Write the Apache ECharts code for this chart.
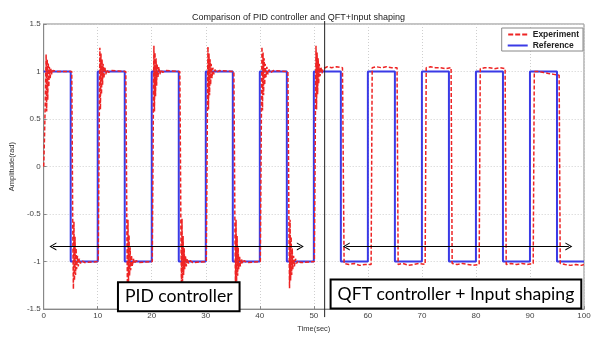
<!DOCTYPE html>
<html>
<head>
<meta charset="utf-8">
<script src="https://cdn.jsdelivr.net/npm/echarts@6/dist/echarts.min.js"></script>
<style>
html,body{margin:0;padding:0;background:#fff}
#chart{width:597px;height:338px}
</style>
</head>
<body>
<div id="chart"></div>
<script>
// reference square wave: [time, level], drawn as steps
var referenceSteps = [
  [0,1],[5,-1],[10,1],[15,-1],[20,1],[25,-1],[30,1],[35,-1],[40,1],[45,-1],
  [50,1],[55,-1],[60,1],[65,-1],[70,1],[75,-1],[80,1],[85,-1],[90,1],[95,-1],[100,-1]
];

// measured response, PID part (0 - 52 s)
var pidExperiment = [
  [0,0],[0.15,0.3],[0.3,0.7],[0.45,1.18],[0.55,0.58],[0.65,1.13],[0.75,0.7],[0.85,1.09],[0.95,0.84],[1.05,1.05],[1.2,0.93],[1.35,1.03],[1.5,0.97],[1.7,1.01],[2.0,0.99],[2.5,1.0],[5.2,1.0],
  [5.3,0.1],[5.4,-0.8],[5.5,-1.29],[5.6,-0.58],[5.7,-1.2],[5.8,-0.74],[5.9,-1.14],[6.0,-0.86],[6.1,-1.08],[6.25,-0.94],[6.4,-1.05],[6.6,-0.97],[6.8,-1.02],[7.1,-0.99],[7.6,-1.01],[10.1,-1.0],
  [10.2,-0.2],[10.3,0.6],[10.4,1.25],[10.5,0.6],[10.6,1.19],[10.7,0.76],[10.8,1.13],[10.9,0.86],[11.0,1.08],[11.15,0.93],[11.3,1.05],[11.5,0.97],[11.7,1.02],[12.0,0.99],[12.5,1.01],[15.2,1.0],
  [15.3,0.2],[15.4,-0.7],[15.5,-1.3],[15.6,-0.56],[15.7,-1.22],[15.8,-0.72],[15.9,-1.15],[16.0,-0.85],[16.1,-1.09],[16.25,-0.93],[16.4,-1.05],[16.6,-0.97],[16.8,-1.02],[17.1,-0.99],[17.6,-1.01],[20.1,-1.0],
  [20.2,-0.2],[20.3,0.6],[20.4,1.27],[20.5,0.58],[20.6,1.2],[20.7,0.74],[20.8,1.14],[20.9,0.85],[21.0,1.08],[21.15,0.94],[21.3,1.05],[21.5,0.97],[21.7,1.02],[22.0,0.99],[22.5,1.01],[25.2,1.0],
  [25.3,0.2],[25.4,-0.7],[25.5,-1.28],[25.6,-0.55],[25.7,-1.21],[25.8,-0.73],[25.9,-1.14],[26.0,-0.86],[26.1,-1.08],[26.25,-0.94],[26.4,-1.05],[26.6,-0.97],[26.8,-1.02],[27.1,-0.99],[27.6,-1.01],[30.1,-1.0],
  [30.2,-0.2],[30.3,0.6],[30.4,1.26],[30.5,0.6],[30.6,1.19],[30.7,0.75],[30.8,1.13],[30.9,0.86],[31.0,1.08],[31.15,0.93],[31.3,1.04],[31.5,0.97],[31.7,1.02],[32.0,0.99],[32.5,1.01],[35.2,1.0],
  [35.3,0.2],[35.4,-0.7],[35.5,-1.29],[35.6,-0.56],[35.7,-1.21],[35.8,-0.73],[35.9,-1.15],[36.0,-0.85],[36.1,-1.08],[36.25,-0.94],[36.4,-1.05],[36.6,-0.97],[36.8,-1.02],[37.1,-0.99],[37.6,-1.01],[40.1,-1.0],
  [40.2,-0.2],[40.3,0.6],[40.4,1.26],[40.5,0.59],[40.6,1.2],[40.7,0.75],[40.8,1.14],[40.9,0.86],[41.0,1.08],[41.15,0.94],[41.3,1.05],[41.5,0.97],[41.7,1.02],[42.0,0.99],[42.5,1.01],[45.2,1.0],
  [45.3,0.2],[45.4,-0.7],[45.5,-1.28],[45.6,-0.56],[45.7,-1.2],[45.8,-0.74],[45.9,-1.14],[46.0,-0.86],[46.1,-1.08],[46.25,-0.94],[46.4,-1.05],[46.6,-0.97],[46.8,-1.02],[47.1,-0.99],[47.6,-1.01],[50.1,-1.0],
  [50.2,-0.2],[50.3,0.6],[50.4,1.27],[50.5,0.6],[50.6,1.2],[50.7,0.76],[50.8,1.14],[50.9,0.87],[51.0,1.08],[51.15,0.95],[51.3,1.05],[51.5,0.98],[51.7,1.03],[52.0,1.04]
];

// measured response, QFT + input shaping part (52 - 100 s)
var qftExperiment = [
  [52.5,1.05],[53.3,1.04],[54.2,1.05],[55.3,1.04],
  [55.6,-1.02],[56.5,-1.03],[57.5,-1.02],[58.5,-1.04],[59.5,-1.03],[60.6,-1.03],
  [60.8,1.04],[61.6,1.05],[62.5,1.04],[63.4,1.05],[64.4,1.04],[65.4,1.04],
  [65.6,-1.03],[66.5,-1.02],[67.5,-1.04],[68.5,-1.03],[69.5,-1.02],[70.6,-1.03],
  [70.8,1.04],[71.6,1.05],[72.5,1.04],[73.4,1.04],[74.4,1.03],[75.4,1.04],
  [75.6,-1.02],[76.5,-1.03],[77.5,-1.02],[78.5,-1.03],[79.5,-1.04],[80.6,-1.03],
  [80.8,1.03],[81.6,1.04],[82.5,1.04],[83.4,1.03],[84.4,1.04],[85.4,1.03],
  [85.6,-1.03],[86.5,-1.02],[87.5,-1.03],[88.5,-1.02],[89.5,-1.03],[90.6,-1.02],
  [90.8,1.0],[91.6,1.0],[92.5,0.99],[93.4,0.98],[94.4,0.97],[95.4,0.96],
  [95.6,-1.02],[96.5,-1.03],[97.5,-1.04],[98.5,-1.03],[99.5,-1.04],[100,-1.03]
];

var splitTime = 52;
var pidArrow = [[1.7,-0.84],[47.5,-0.84]];
var qftArrow = [[56,-0.84],[97.2,-0.84]];
var pidLabelAt = [25,-1.37];
var qftLabelAt = [76.3,-1.34];

var chevron = 'path://M0,10 L5,0 L10,10 L8.6,10 L5,2.8 L1.4,10 Z';
var dashedIcon = 'path://M0,0 L5,0 L5,2 L0,2 Z M7,0 L12,0 L12,2 L7,2 Z M14,0 L19,0 L19,2 L14,2 Z';
var solidIcon = 'path://M0,0 L20,0 L20,2 L0,2 Z';

var chart = echarts.init(document.getElementById('chart'));
var labelFont = 'Liberation Sans, Arial, sans-serif';

var boxLabel = function (text) {
  return {
    show: true,
    position: 'inside',
    formatter: text,
    fontFamily: 'Lato, sans-serif',
    fontSize: 17.6,
    color: '#000',
    backgroundColor: '#fff',
    borderColor: '#000',
    borderWidth: 2,
    padding: [5, 6, 4, 6]
  };
};

chart.setOption({
  animation: false,
  title: {
    text: 'Comparison of PID controller and QFT+Input shaping',
    left: 'center',
    top: 8,
    textStyle: {fontSize: 9, fontWeight: 'normal', color: '#222', fontFamily: labelFont}
  },
  legend: {
    right: 14,
    top: 28,
    orient: 'vertical',
    backgroundColor: '#fff',
    borderColor: '#888',
    borderWidth: 1,
    padding: [2, 4, 1, 6],
    itemGap: 2,
    itemWidth: 20,
    itemHeight: 2,
    textStyle: {fontSize: 8.5, color: '#222', fontFamily: labelFont, fontWeight: 'bold'},
    data: [
      {name: 'Experiment', icon: dashedIcon, itemStyle: {color: '#ee2424'}},
      {name: 'Reference', icon: solidIcon, itemStyle: {color: '#3a3ae6'}}
    ]
  },
  grid: {left: 43, right: 13, top: 24, bottom: 19, show: true, borderColor: '#888', borderWidth: 1},
  xAxis: {
    type: 'value', min: 0, max: 100, interval: 10,
    name: 'Time(sec)', nameLocation: 'middle', nameGap: 15,
    nameTextStyle: {fontSize: 7.5, color: '#333', fontFamily: labelFont},
    axisLine: {onZero: false, lineStyle: {color: '#888'}},
    axisTick: {inside: true, length: 3, lineStyle: {color: '#888'}},
    axisLabel: {fontSize: 8, color: '#444', margin: 3, fontFamily: labelFont},
    splitLine: {show: true, lineStyle: {color: '#cfcfcf', type: [1, 2]}}
  },
  yAxis: {
    type: 'value', min: -1.5, max: 1.5, interval: 0.5,
    name: 'Amplitude(rad)', nameLocation: 'middle', nameGap: 21,
    nameTextStyle: {fontSize: 7.5, color: '#333', fontFamily: labelFont},
    axisLine: {show: true, onZero: false, lineStyle: {color: '#888'}},
    axisTick: {show: true, inside: true, length: 3, lineStyle: {color: '#888'}},
    axisLabel: {fontSize: 8, color: '#444', margin: 3, fontFamily: labelFont},
    splitLine: {show: true, lineStyle: {color: '#cfcfcf', type: [1, 2]}}
  },
  series: [
    {
      name: 'Reference',
      type: 'line',
      step: 'end',
      showSymbol: false,
      symbol: 'none',
      data: referenceSteps,
      lineStyle: {color: '#3a3ae6', width: 2},
      itemStyle: {color: '#3a3ae6'},
      z: 2
    },
    {
      name: 'Experiment',
      type: 'line',
      showSymbol: false,
      symbol: 'none',
      data: pidExperiment.concat(qftExperiment),
      lineStyle: {color: '#ee2424', width: 1.5, type: [4, 2]},
      itemStyle: {color: '#ee2424'},
      z: 3,
      markLine: {
        silent: true,
        symbol: [chevron, chevron],
        symbolSize: [8, 7],
        lineStyle: {color: '#000', width: 1, type: 'solid'},
        label: {show: false},
        data: [
          [{coord: pidArrow[0]}, {coord: pidArrow[1]}],
          [{coord: qftArrow[0]}, {coord: qftArrow[1]}]
        ]
      },
      markPoint: {
        silent: true,
        symbol: 'rect',
        symbolSize: 1,
        itemStyle: {color: 'rgba(0,0,0,0)'},
        data: [
          {coord: pidLabelAt, label: boxLabel('PID controller')},
          {coord: qftLabelAt, label: boxLabel('QFT controller + Input shaping')}
        ],
        z: 10
      }
    }
  ]
});

// split marker between the two controllers
var sx = chart.convertToPixel({xAxisIndex: 0}, splitTime);
var sTop = chart.convertToPixel({yAxisIndex: 0}, 1.5) - 3;
var sBot = chart.convertToPixel({yAxisIndex: 0}, -1.5) + 8;
chart.setOption({
  graphic: [{
    type: 'line',
    shape: {x1: sx, y1: sTop, x2: sx, y2: sBot},
    style: {stroke: '#222', lineWidth: 1},
    z: 5
  }]
});
</script>
</body>
</html>
